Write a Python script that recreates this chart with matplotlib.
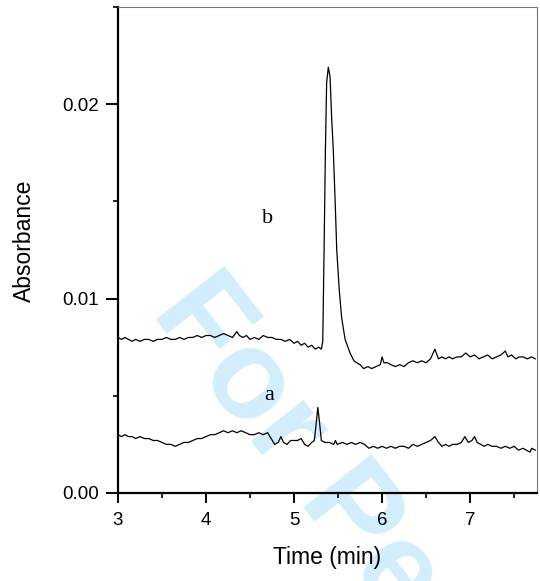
import matplotlib
matplotlib.use("Agg")
import matplotlib.pyplot as plt
from matplotlib.ticker import MultipleLocator

# trace b (sample)
b_t = [3.00, 3.04, 3.08, 3.12, 3.16, 3.20, 3.25, 3.30, 3.35, 3.40, 3.45, 3.50,
       3.55, 3.60, 3.65, 3.70, 3.75, 3.80, 3.85, 3.90, 3.95, 4.00, 4.05, 4.10,
       4.15, 4.20, 4.25, 4.30, 4.35, 4.38, 4.42, 4.46, 4.50, 4.55, 4.60, 4.65,
       4.70, 4.75, 4.80, 4.85, 4.90, 4.95, 5.00, 5.04, 5.08, 5.12, 5.16, 5.20,
       5.24, 5.28, 5.31, 5.326, 5.341, 5.356, 5.370, 5.389, 5.409, 5.427, 5.446,
       5.466, 5.485, 5.514, 5.541, 5.58, 5.636, 5.68, 5.71, 5.75, 5.79, 5.84,
       5.88, 5.93, 5.98, 6.00, 6.02, 6.06, 6.10, 6.15, 6.20, 6.25, 6.30, 6.35,
       6.40, 6.45, 6.50, 6.55, 6.60, 6.64, 6.68, 6.72, 6.76, 6.80, 6.85, 6.90,
       6.95, 7.00, 7.05, 7.10, 7.15, 7.20, 7.25, 7.30, 7.35, 7.40, 7.43, 7.47,
       7.52, 7.56, 7.60, 7.65, 7.70, 7.74]
b_v = [0.0080, 0.0079, 0.0080, 0.0079, 0.0078, 0.0079, 0.0078, 0.0079, 0.0079, 0.0078, 0.0079, 0.0079,
       0.0080, 0.0079, 0.0079, 0.0080, 0.0079, 0.0080, 0.0080, 0.0081, 0.0080, 0.0081, 0.0081, 0.0080,
       0.0081, 0.0082, 0.0081, 0.0080, 0.0083, 0.0081, 0.0080, 0.0081, 0.0079, 0.0080, 0.0079, 0.0081,
       0.0080, 0.0080, 0.0079, 0.0079, 0.0078, 0.0079, 0.0077, 0.0078, 0.0076, 0.0077, 0.0075, 0.0076,
       0.0074, 0.0075, 0.0074, 0.0078, 0.0125, 0.0176, 0.0211, 0.0219, 0.0214, 0.0193, 0.0176,
       0.0151, 0.0125, 0.0104, 0.0090, 0.0079, 0.0072, 0.0068, 0.0067, 0.0066, 0.0064, 0.0065,
       0.0064, 0.0065, 0.0066, 0.0070, 0.0067, 0.0067, 0.0066, 0.0065, 0.0066, 0.0065, 0.0067, 0.0068,
       0.0067, 0.0068, 0.0067, 0.0069, 0.0074, 0.0069, 0.0070, 0.0069, 0.0070, 0.0069, 0.0070, 0.0070,
       0.0072, 0.0070, 0.0071, 0.0069, 0.0070, 0.0071, 0.0069, 0.0070, 0.0071, 0.0073, 0.0070, 0.0071,
       0.0069, 0.0070, 0.0070, 0.0069, 0.0070, 0.0069]

# trace a (blank)
a_t = [3.00, 3.04, 3.08, 3.12, 3.16, 3.20, 3.25, 3.30, 3.35, 3.40, 3.45, 3.50,
       3.55, 3.60, 3.65, 3.70, 3.75, 3.80, 3.85, 3.90, 3.95, 4.00, 4.05, 4.10,
       4.15, 4.20, 4.25, 4.30, 4.35, 4.40, 4.45, 4.50, 4.55, 4.60, 4.65, 4.70,
       4.74, 4.78, 4.82, 4.85, 4.88, 4.92, 4.96, 5.00, 5.04, 5.08, 5.12, 5.16,
       5.20, 5.23, 5.25, 5.27, 5.29, 5.31, 5.35, 5.40, 5.45, 5.47, 5.49, 5.55,
       5.60, 5.65, 5.70, 5.75, 5.80, 5.85, 5.90, 5.95, 6.00, 6.05, 6.10, 6.15,
       6.20, 6.25, 6.30, 6.35, 6.40, 6.45, 6.50, 6.55, 6.60, 6.64, 6.68, 6.72,
       6.76, 6.80, 6.85, 6.90, 6.94, 6.98, 7.02, 7.05, 7.08, 7.12, 7.16, 7.20,
       7.25, 7.30, 7.35, 7.40, 7.45, 7.50, 7.55, 7.60, 7.64, 7.68, 7.70, 7.74]
a_v = [0.0030, 0.0029, 0.0030, 0.0029, 0.0029, 0.0028, 0.0029, 0.0028, 0.0028, 0.0027, 0.0027, 0.0026,
       0.0025, 0.0025, 0.0024, 0.0025, 0.0026, 0.0026, 0.0027, 0.0028, 0.0028, 0.0029, 0.0030, 0.0030,
       0.0031, 0.0032, 0.0031, 0.0032, 0.0031, 0.0032, 0.0031, 0.0030, 0.0030, 0.0031, 0.0030, 0.0031,
       0.0028, 0.0025, 0.0026, 0.0029, 0.0026, 0.0025, 0.0027, 0.0027, 0.0027, 0.0028, 0.0025, 0.0024,
       0.0026, 0.0027, 0.0035, 0.0044, 0.0036, 0.0027, 0.0026, 0.0026, 0.0025, 0.0027, 0.0025, 0.0026,
       0.0025, 0.0026, 0.0025, 0.0026, 0.0025, 0.0023, 0.0024, 0.0023, 0.0024, 0.0023, 0.0024, 0.0023,
       0.0024, 0.0024, 0.0023, 0.0025, 0.0024, 0.0025, 0.0026, 0.0027, 0.0029, 0.0026, 0.0024, 0.0025,
       0.0024, 0.0025, 0.0025, 0.0026, 0.0029, 0.0026, 0.0027, 0.0029, 0.0026, 0.0025, 0.0024, 0.0025,
       0.0024, 0.0024, 0.0023, 0.0024, 0.0023, 0.0024, 0.0022, 0.0023, 0.0022, 0.0021, 0.0023, 0.0022]

y_ticks = [0.00, 0.01, 0.02]
y_labels = ["0.00", "0.01", "0.02"]

plt.rcParams['font.family'] = ['Liberation Sans', 'DejaVu Sans']

fig = plt.figure(figsize=(5.4, 5.81), dpi=100)
ax = fig.add_axes([0.2185, 0.1515, 0.776, 0.8365])
ax.patch.set_alpha(0)

# watermark behind everything
fig.text(150/540, 1-312/581, "For Peer Review", rotation=-52, rotation_mode='anchor',
         ha='left', va='baseline', fontsize=91, fontweight='bold',
         color='#d2eefc', zorder=-1, family='Liberation Sans')

ax.plot(b_t, b_v, color='black', lw=0.9)
ax.plot(a_t, a_v, color='black', lw=0.9)

ax.text(4.70, 0.0141, "b", family='Liberation Serif', fontsize=16, ha='center', va='center')
ax.text(4.72, 0.0050, "a", family='Liberation Serif', fontsize=16, ha='center', va='center')

ax.set_xlim(3, 7.76)
ax.set_ylim(0, 0.025)
ax.xaxis.set_major_locator(MultipleLocator(1))
ax.xaxis.set_minor_locator(MultipleLocator(0.5))
ax.set_yticks(y_ticks)
ax.set_yticklabels(y_labels)
ax.yaxis.set_minor_locator(MultipleLocator(0.005))

for s in ['left', 'bottom']:
    ax.spines[s].set_linewidth(1.6)
for s in ['top', 'right']:
    ax.spines[s].set_linewidth(0.8)
    ax.spines[s].set_color('#777777')

ax.tick_params(axis='x', which='major', direction='out', length=7, width=1.4, labelsize=13.5, pad=7)
ax.tick_params(axis='y', which='major', direction='out', length=8.5, width=1.4, labelsize=13.5, pad=5)
ax.tick_params(which='minor', direction='out', length=3.6, width=1.2)

ax.set_xlabel("Time (min)", fontsize=16.5, labelpad=12)
ax.set_ylabel("Absorbance", fontsize=16.5)
ax.yaxis.set_label_coords(-0.195, 0.518)

fig.savefig("out.png", dpi=100)
